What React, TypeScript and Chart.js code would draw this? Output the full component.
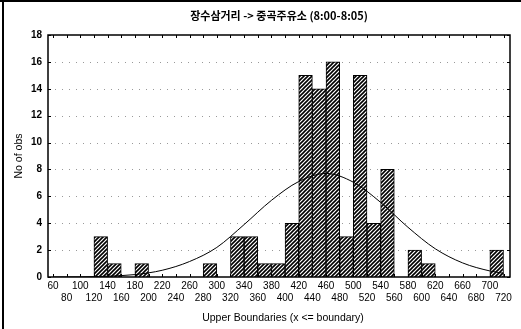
import React, { useEffect, useRef } from 'react';
import { Chart, registerables } from 'chart.js';

Chart.register(...registerables);

const TITLE = '장수삼거리 -> 중곡주유소 (8:00-8:05)';
const X_TITLE = 'Upper Boundaries (x <= boundary)';
const Y_TITLE = 'No of obs';

// upper boundaries of the 20-wide bins (also the x tick labels)
const boundaries = [
  60, 80, 100, 120, 140, 160, 180, 200, 220, 240, 260, 280, 300, 320, 340, 360, 380,
  400, 420, 440, 460, 480, 500, 520, 540, 560, 580, 600, 620, 640, 660, 680, 700, 720,
];
// number of observations in each bin
const counts = [
  0, 0, 0, 0, 3, 1, 0, 1, 0, 0, 0, 0, 1, 0, 3, 3, 1,
  1, 4, 15, 14, 16, 3, 15, 4, 8, 0, 2, 1, 0, 0, 0, 0, 2,
];
const BIN_WIDTH = 20;

// fitted normal curve
const curveX = [60, 100, 140, 180, 220, 260, 300, 340, 380, 420, 460, 500, 540, 580, 620, 660, 700, 720];
const curveY = [0, 0.01, 0.06, 0.18, 0.5, 1.15, 2.2, 3.9, 5.7, 7.1, 7.7, 7.05, 5.55, 3.7, 2.1, 1.05, 0.45, 0.28];

const yTicks = [0, 2, 4, 6, 8, 10, 12, 14, 16, 18];

const FONT = '"Liberation Sans", Arial, sans-serif';

function makeHatch(): CanvasPattern | string {
  const s = 4;
  const c = document.createElement('canvas');
  c.width = s;
  c.height = s;
  const g = c.getContext('2d');
  if (!g) return '#888';
  g.fillStyle = '#fff';
  g.fillRect(0, 0, s, s);
  g.strokeStyle = '#000';
  g.lineWidth = 1.6;
  g.beginPath();
  g.moveTo(-1, s + 1);
  g.lineTo(s + 1, -1);
  g.moveTo(-1, 1);
  g.lineTo(1, -1);
  g.moveTo(s - 1, s + 1);
  g.lineTo(s + 1, s - 1);
  g.stroke();
  const p = g.createPattern(c, 'repeat');
  return p || '#888';
}

const decor = {
  id: 'decor',
  beforeDatasetsDraw(chart: any) {
    const { ctx, chartArea: a, scales } = chart;
    ctx.save();
    ctx.strokeStyle = '#999';
    ctx.lineWidth = 1;
    ctx.setLineDash([1, 6]);
    yTicks.forEach((v) => {
      if (v <= 0 || v >= 18) return;
      const y = Math.round(scales.y.getPixelForValue(v)) + 0.5;
      ctx.beginPath();
      ctx.moveTo(a.left, y);
      ctx.lineTo(a.right, y);
      ctx.stroke();
    });
    ctx.restore();
  },
  afterDraw(chart: any) {
    const { ctx, chartArea: a, scales, width, height } = chart;
    ctx.save();
    ctx.setLineDash([]);
    ctx.strokeStyle = '#000';
    // frame
    ctx.lineWidth = 1.5;
    ctx.strokeRect(a.left, a.top, a.right - a.left, a.bottom - a.top);
    // inward tick marks
    ctx.lineWidth = 1;
    ctx.beginPath();
    boundaries.forEach((v) => {
      const x = Math.round(scales.x.getPixelForValue(v)) + 0.5;
      ctx.moveTo(x, a.bottom);
      ctx.lineTo(x, a.bottom - 3);
      ctx.moveTo(x, a.top);
      ctx.lineTo(x, a.top + 3);
    });
    yTicks.forEach((v) => {
      const y = Math.round(scales.y.getPixelForValue(v)) + 0.5;
      ctx.moveTo(a.left, y);
      ctx.lineTo(a.left + 3, y);
      ctx.moveTo(a.right, y);
      ctx.lineTo(a.right - 3, y);
    });
    ctx.stroke();
    // titles
    ctx.fillStyle = '#000';
    ctx.textAlign = 'center';
    ctx.textBaseline = 'middle';
    ctx.font = `bold 11px "Noto Sans CJK KR", ${FONT}`;
    ctx.fillText(TITLE, (a.left + a.right) / 2, 16);
    ctx.font = `10.5px ${FONT}`;
    ctx.fillText(X_TITLE, (a.left + a.right) / 2 + 4, 318);
    ctx.save();
    ctx.translate(19, (a.top + a.bottom) / 2);
    ctx.rotate(-Math.PI / 2);
    ctx.fillText(Y_TITLE, 0, 0);
    ctx.restore();
    // page border
    ctx.lineWidth = 2;
    ctx.beginPath();
    ctx.moveTo(3, 0);
    ctx.lineTo(3, height);
    ctx.moveTo(0, 1);
    ctx.lineTo(width, 1);
    ctx.stroke();
    ctx.restore();
  },
};

export default function App() {
  const ref = useRef<HTMLCanvasElement | null>(null);

  useEffect(() => {
    if (!ref.current) return;
    const hatch = makeHatch();
    const chart = new Chart(ref.current, {
      type: 'bar',
      data: {
        datasets: [
          {
            type: 'line',
            data: curveX.map((x, i) => ({ x, y: curveY[i] })),
            borderColor: '#000',
            borderWidth: 1,
            pointRadius: 0,
            fill: false,
            cubicInterpolationMode: 'monotone',
            order: 0,
          } as any,
          {
            type: 'bar',
            data: boundaries.map((b, i) => ({ x: b - BIN_WIDTH / 2, y: counts[i] })),
            backgroundColor: hatch as any,
            borderColor: '#000',
            borderWidth: 1,
            barPercentage: 1,
            categoryPercentage: 1,
            order: 1,
          } as any,
        ],
      },
      options: {
        animation: false,
        responsive: false,
        maintainAspectRatio: false,
        layout: { padding: { top: 35, right: 11, bottom: 0, left: 0 } },
        plugins: {
          legend: { display: false },
          tooltip: { enabled: false },
          title: { display: false },
        },
        scales: {
          x: {
            type: 'linear',
            min: 52.7,
            max: 729.5,
            offset: false,
            grid: { display: false, drawTicks: false },
            border: { display: false },
            afterBuildTicks: (scale: any) => {
              scale.ticks = boundaries.map((v) => ({ value: v }));
            },
            afterFit: (scale: any) => {
              scale.height = 52;
            },
            ticks: {
              autoSkip: false,
              maxRotation: 0,
              minRotation: 0,
              padding: 3,
              color: '#000',
              font: { family: FONT, size: 10 },
              callback: (value: any, index: number) =>
                index % 2 === 0 ? [String(value), ''] : ['', String(value)],
            },
          },
          y: {
            min: 0,
            max: 18,
            grid: { display: false, drawTicks: false },
            border: { display: false },
            afterBuildTicks: (scale: any) => {
              scale.ticks = yTicks.map((v) => ({ value: v }));
            },
            afterFit: (scale: any) => {
              scale.width = 48;
            },
            ticks: {
              padding: 6,
              color: '#000',
              font: { family: FONT, size: 10, weight: 'bold' },
            },
          },
        },
      },
      plugins: [decor],
    });
    return () => chart.destroy();
  }, []);

  return (
    <div style={{ position: 'fixed', left: 0, top: 0, width: 521, height: 329, background: '#fff' }}>
      <canvas ref={ref} width={521} height={329} style={{ width: 521, height: 329, display: 'block' }} />
    </div>
  );
}
